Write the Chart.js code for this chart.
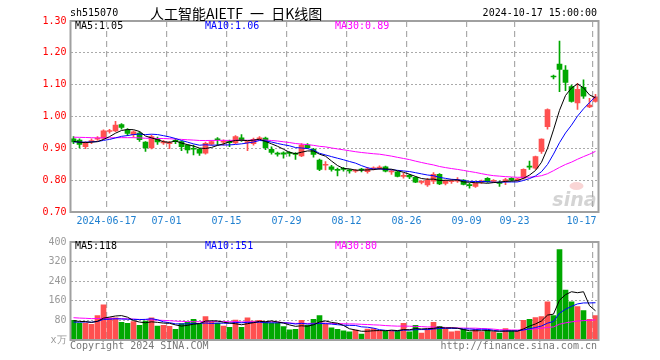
<!DOCTYPE html>
<html>
<head>
<meta charset="utf-8">
<title>515070 日K线图</title>
<script src="https://cdn.jsdelivr.net/npm/chart.js@4.4.1/dist/chart.umd.min.js"></script>
<style>
    body { margin: 0; background: #fff; }
    #wrap { position: relative; width: 660px; height: 360px; overflow: hidden;
            font-family: "DejaVu Sans Mono", monospace; font-size: 10px; }
    canvas { position: absolute; left: 0; }
    .t { position: absolute; white-space: nowrap; line-height: 12px; }
</style>
</head>
<body>
<div id="wrap">
    <canvas id="priceChart" width="660" height="232" style="top:0"></canvas>
    <canvas id="volumeChart" width="660" height="128" style="top:232px"></canvas>

    <div class="t" style="left:70px;top:7px;color:#000">sh515070</div>
    <div class="t" style="left:150px;top:4px;font-family:'Noto Sans CJK SC',sans-serif;font-size:14px;line-height:18px;color:#000;word-spacing:4px">人工智能AIETF 一 日K线图</div>
    <div class="t" style="right:63px;top:7px;color:#000">2024-10-17 15:00:00</div>

    <div class="t" style="left:75px;top:20px;color:#000">MA5:1.05</div>
    <div class="t" style="left:205px;top:20px;color:#0000ff">MA10:1.06</div>
    <div class="t" style="left:335px;top:20px;color:#ff00ff">MA30:0.89</div>

    <div class="t" style="left:75px;top:240px;color:#000">MA5:118</div>
    <div class="t" style="left:205px;top:240px;color:#0000ff">MA10:151</div>
    <div class="t" style="left:335px;top:240px;color:#ff00ff">MA30:80</div>

    <div class="t" style="left:70px;top:340px;color:#777">Copyright 2024 SINA.COM</div>
    <div class="t" style="right:63px;top:340px;color:#777">http://finance.sina.com.cn</div>
</div>

<script>
// Trading days shown on the chart
const dates = [
    '06-06','06-07','06-11','06-12','06-13','06-14','06-17','06-18','06-19','06-20','06-21','06-24','06-25','06-26','06-27','06-28',
    '07-01','07-02','07-03','07-04','07-05','07-08','07-09','07-10','07-11','07-12','07-15','07-16','07-17','07-18','07-19',
    '07-22','07-23','07-24','07-25','07-26','07-29','07-30','07-31',
    '08-01','08-02','08-05','08-06','08-07','08-08','08-09','08-12','08-13','08-14','08-15','08-16',
    '08-19','08-20','08-21','08-22','08-23','08-26','08-27','08-28','08-29','08-30',
    '09-02','09-03','09-04','09-05','09-06','09-09','09-10','09-11','09-12','09-13','09-18','09-19','09-20',
    '09-23','09-24','09-25','09-26','09-27','09-30',
    '10-08','10-09','10-10','10-11','10-14','10-15','10-16','10-17'
];

// Date labels under the price panel
const tickLabels = ['2024-06-17', '07-01', '07-15', '07-29', '08-12', '08-26', '09-09', '09-23', '10-17'];

// Price axis / volume axis ticks
const priceTicks = [0.70, 0.80, 0.90, 1.00, 1.10, 1.20, 1.30];
const volumeTicks = [0, 80, 160, 240, 320, 400];

// OHLC (yuan)
const open = [
    0.930,0.926,0.905,0.921,0.929,0.932,0.953,0.955,0.975,0.958,
    0.943,0.948,0.920,0.901,0.930,0.917,0.915,0.924,0.921,0.910,
    0.899,0.898,0.885,0.913,0.929,0.919,0.920,0.917,0.933,0.918,
    0.915,0.930,0.932,0.897,0.884,0.886,0.885,0.883,0.876,0.910,
    0.897,0.863,0.847,0.842,0.834,0.837,0.831,0.828,0.834,0.827,
    0.835,0.838,0.842,0.826,0.826,0.812,0.815,0.809,0.793,0.785,
    0.797,0.818,0.790,0.795,0.797,0.800,0.785,0.780,0.794,0.806,
    0.796,0.792,0.798,0.806,0.801,0.806,0.843,0.838,0.890,0.968,
    1.126,1.165,1.146,1.094,1.043,1.092,1.030,1.047
];
const high = [
    0.937,0.930,0.921,0.930,0.937,0.958,0.960,0.985,0.978,0.962,
    0.955,0.953,0.921,0.942,0.935,0.925,0.922,0.930,0.923,0.912,
    0.910,0.900,0.920,0.924,0.934,0.927,0.926,0.940,0.943,0.924,
    0.932,0.937,0.935,0.905,0.888,0.889,0.890,0.887,0.915,0.915,
    0.900,0.866,0.858,0.847,0.838,0.840,0.834,0.834,0.837,0.840,
    0.842,0.845,0.844,0.832,0.828,0.822,0.818,0.811,0.799,0.806,
    0.824,0.821,0.800,0.802,0.808,0.802,0.790,0.792,0.800,0.808,
    0.802,0.797,0.806,0.808,0.806,0.836,0.860,0.876,0.930,1.024,
    1.130,1.237,1.160,1.099,1.104,1.115,1.057,1.070
];
const low = [
    0.915,0.901,0.899,0.915,0.925,0.928,0.948,0.952,0.960,0.940,
    0.935,0.922,0.890,0.898,0.912,0.912,0.899,0.915,0.893,0.885,
    0.879,0.878,0.882,0.910,0.910,0.910,0.905,0.915,0.922,0.893,
    0.910,0.925,0.896,0.882,0.875,0.869,0.875,0.865,0.874,0.900,
    0.872,0.830,0.832,0.828,0.813,0.828,0.822,0.824,0.826,0.822,
    0.832,0.834,0.826,0.818,0.810,0.806,0.805,0.792,0.788,0.780,
    0.789,0.786,0.785,0.790,0.793,0.785,0.775,0.777,0.790,0.793,
    0.792,0.780,0.786,0.798,0.797,0.803,0.834,0.834,0.884,0.960,
    1.118,1.078,1.081,1.045,1.022,1.057,1.028,1.045
];
const close = [
    0.920,0.912,0.918,0.924,0.931,0.955,0.955,0.973,0.966,0.947,
    0.952,0.927,0.901,0.937,0.920,0.919,0.917,0.922,0.905,0.895,
    0.897,0.885,0.916,0.921,0.927,0.921,0.918,0.937,0.924,0.921,
    0.928,0.933,0.902,0.887,0.882,0.882,0.884,0.881,0.910,0.902,
    0.881,0.834,0.850,0.834,0.831,0.834,0.829,0.830,0.832,0.836,
    0.839,0.841,0.828,0.828,0.812,0.815,0.810,0.794,0.795,0.800,
    0.818,0.788,0.797,0.798,0.802,0.787,0.783,0.790,0.796,0.795,
    0.798,0.790,0.802,0.800,0.803,0.834,0.841,0.874,0.929,1.022,
    1.124,1.148,1.107,1.047,1.085,1.064,1.036,1.062
];

// Volume (x万)
const volume = [
    80,69,69,64,100,144,91,91,72,68,
    75,60,77,91,57,60,56,44,67,72,
    84,67,96,73,69,57,52,81,52,91,
    77,80,73,69,69,55,42,44,80,60,
    84,100,65,50,44,37,33,40,24,45,
    47,37,36,36,36,68,33,60,28,44,
    72,56,44,33,36,44,32,44,33,40,
    33,28,47,36,36,80,84,92,96,156,
    100,369,204,156,136,120,84,100
];

// Sessions before 06-06 (off chart), estimated so the MA lines start where they do
const closeBefore = [
    0.925,0.932,0.945,0.951,0.948,0.956,0.962,0.958,0.949,0.953,
    0.944,0.938,0.941,0.934,0.929,0.936,0.947,0.939,0.931,0.927,
    0.922,0.918,0.915,0.921,0.919,0.926,0.924,0.917,0.923
];
const volumeBefore = [
    112,96,104,88,120,97,108,92,85,110,
    99,94,118,102,90,87,105,96,101,95,
    70,62,74,66,63,85,72,81,77
];

const RED = '#ff5050';
const GREEN = '#00a800';
const GRID = '#aaaaaa';
const MONO = '"DejaVu Sans Mono", monospace';

// Moving average over n sessions
function movingAverage(values, before, n) {
    const all = before.concat(values);
    return values.map((v, i) => {
        const end = before.length + i + 1;
        const win = all.slice(end - n, end);
        return win.reduce((a, b) => a + b, 0) / n;
    });
}

const candleColors = close.map((c, i) => c >= open[i] ? RED : GREEN);
const bodies = open.map((o, i) => [o, close[i]]);
const wicks = low.map((l, i) => [l, high[i]]);
const tickIndex = tickLabels.map(t => dates.indexOf(t.slice(-5)));

// Dashed vertical grid at the labelled dates (grid is offset, so it sits on the candle's left edge)
function dateGridColor(ctx) {
    return tickIndex.includes(ctx.index) ? GRID : 'rgba(0,0,0,0)';
}

// Frame round the plot area
const framePlugin = {
    id: 'frame',
    afterDraw(chart) {
        const { ctx, chartArea: a } = chart;
        ctx.save();
        ctx.strokeStyle = '#a0a0a0';
        ctx.lineWidth = 2;
        ctx.strokeRect(a.left, a.top, a.right - a.left, a.bottom - a.top);
        ctx.restore();
    }
};

// Date labels under the price panel
const dateLabelPlugin = {
    id: 'dateLabels',
    afterDraw(chart) {
        const { ctx, chartArea: a } = chart;
        const x = chart.scales.x;
        const step = (a.right - a.left) / dates.length;
        ctx.save();
        ctx.font = '10px ' + MONO;
        ctx.fillStyle = '#2080d0';
        ctx.textBaseline = 'middle';
        tickLabels.forEach((label, k) => {
            const px = x.getPixelForValue(tickIndex[k]) - step / 2;
            const w = ctx.measureText(label).width;
            let left = px - w / 2;
            if (left + w > a.right - 2) left = a.right - 2 - w;
            ctx.fillText(label, left, a.bottom + 9);
        });
        ctx.restore();
    }
};

const watermarkPlugin = {
    id: 'watermark',
    beforeDatasetsDraw(chart) {
        const { ctx, chartArea: a } = chart;
        ctx.save();
        ctx.font = 'italic bold 19px "DejaVu Sans", sans-serif';
        ctx.fillStyle = 'rgba(170,170,170,0.5)';
        ctx.textAlign = 'right';
        ctx.fillText('sina', a.right - 2, a.bottom - 6);
        ctx.fillStyle = 'rgba(240,150,150,0.4)';
        ctx.beginPath();
        ctx.ellipse(a.right - 22, a.bottom - 26, 7, 4, 0, 0, Math.PI * 2);
        ctx.fill();
        ctx.restore();
    }
};

function lineSet(data, color) {
    return {
        type: 'line', data: data, borderColor: color, borderWidth: 1,
        pointRadius: 0, tension: 0, fill: false, order: 0
    };
}

// Price panel
new Chart(document.getElementById('priceChart'), {
    type: 'bar',
    data: {
        labels: dates,
        datasets: [
            lineSet(movingAverage(close, closeBefore, 5), '#000000'),
            lineSet(movingAverage(close, closeBefore, 10), '#0000ff'),
            lineSet(movingAverage(close, closeBefore, 30), '#ff00ff'),
            { data: bodies, backgroundColor: candleColors, barThickness: 5,
              minBarLength: 1, grouped: false, order: 1 },
            { data: wicks, backgroundColor: candleColors, barThickness: 1,
              grouped: false, order: 2 }
        ]
    },
    options: {
        responsive: false,
        animation: false,
        events: [],
        layout: { padding: { left: 0, right: 61.5, top: 21, bottom: 0 } },
        plugins: { legend: { display: false }, tooltip: { enabled: false } },
        scales: {
            x: {
                type: 'category',
                offset: true,
                ticks: { display: false, autoSkip: false },
                grid: { offset: true, drawTicks: false, color: dateGridColor, lineWidth: 1.2 },
                border: { display: false, dash: [6, 4] },
                afterFit: s => { s.height = 20; }
            },
            y: {
                min: priceTicks[0],
                max: priceTicks[priceTicks.length - 1],
                afterBuildTicks: s => { s.ticks = priceTicks.map(v => ({ value: v })); },
                ticks: {
                    color: '#ff0000', padding: 4,
                    font: { family: MONO, size: 10 },
                    callback: v => v.toFixed(2)
                },
                grid: {
                    drawTicks: false, lineWidth: 1,
                    color: ctx => (ctx.tick && ctx.tick.value > priceTicks[0] + 1e-6 &&
                        ctx.tick.value < priceTicks[priceTicks.length - 1] - 1e-6) ? GRID : 'rgba(0,0,0,0)'
                },
                border: { display: false, dash: [2, 2] },
                afterFit: s => { s.width = 70.5; }
            }
        }
    },
    plugins: [watermarkPlugin, framePlugin, dateLabelPlugin]
});

// Volume panel
new Chart(document.getElementById('volumeChart'), {
    type: 'bar',
    data: {
        labels: dates,
        datasets: [
            lineSet(movingAverage(volume, volumeBefore, 5), '#000000'),
            lineSet(movingAverage(volume, volumeBefore, 10), '#0000ff'),
            lineSet(movingAverage(volume, volumeBefore, 30), '#ff00ff'),
            { data: volume, backgroundColor: candleColors, barThickness: 5,
              grouped: false, order: 1 }
        ]
    },
    options: {
        responsive: false,
        animation: false,
        events: [],
        layout: { padding: { left: 0, right: 61.5, top: 8, bottom: 0 } },
        plugins: { legend: { display: false }, tooltip: { enabled: false } },
        scales: {
            x: {
                type: 'category',
                offset: true,
                ticks: { display: false, autoSkip: false },
                grid: { offset: true, drawTicks: false, color: dateGridColor, lineWidth: 1.2 },
                border: { display: false, dash: [6, 4] },
                afterFit: s => { s.height = 20; }
            },
            y: {
                min: volumeTicks[0],
                max: volumeTicks[volumeTicks.length - 1],
                afterBuildTicks: s => { s.ticks = volumeTicks.map(v => ({ value: v })); },
                ticks: {
                    color: '#999999', padding: 4,
                    font: { family: MONO, size: 10 },
                    callback: v => v === 0 ? 'x万' : String(v)
                },
                grid: {
                    drawTicks: false, lineWidth: 1,
                    color: ctx => (ctx.tick && ctx.tick.value > 0 &&
                        ctx.tick.value < volumeTicks[volumeTicks.length - 1]) ? GRID : 'rgba(0,0,0,0)'
                },
                border: { display: false, dash: [2, 2] },
                afterFit: s => { s.width = 70.5; }
            }
        }
    },
    plugins: [framePlugin]
});
</script>
</body>
</html>
